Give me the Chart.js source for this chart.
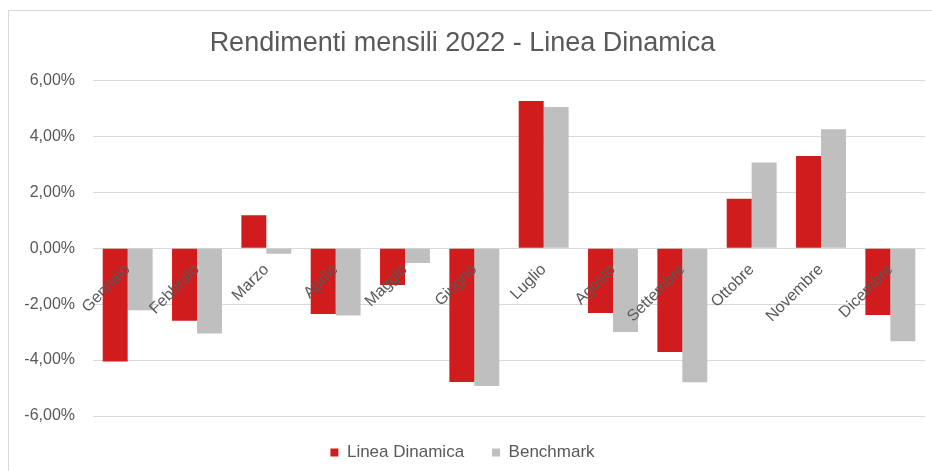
<!DOCTYPE html>
<html>
<head>
<meta charset="utf-8">
<script src="https://cdn.jsdelivr.net/npm/chart.js@4.4.0/dist/chart.umd.min.js"></script>
<style>
  html, body { margin: 0; padding: 0; background: #fff; }
  #wrap { position: relative; width: 932px; height: 471px; }
  #frame { position: absolute; left: 8px; top: 10px; width: 930px; height: 470px; border: 1px solid #d9d9d9; box-sizing: border-box; }
  canvas { position: absolute; left: 0; top: 0; }
</style>
</head>
<body>
<div id="wrap">
  <div id="frame"></div>
  <canvas id="chart" width="932" height="471"></canvas>
</div>
<script>
const CHART = document.getElementById("chart");

var months = ['Gennaio', 'Febbraio', 'Marzo', 'Aprile', 'Maggio', 'Giugno',
              'Luglio', 'Agosto', 'Settembre', 'Ottobre', 'Novembre', 'Dicembre'];
var lineaDinamica = [-4.05, -2.59, 1.18, -2.35, -1.32, -4.78, 5.26, -2.32, -3.71, 1.77, 3.30, -2.39];
var benchmark = [-2.22, -3.05, -0.20, -2.41, -0.53, -4.93, 5.05, -3.00, -4.79, 3.06, 4.25, -3.33];
var yTicks = [-6, -4, -2, 0, 2, 4, 6];

var grey = '#595959';
var fam = 'Liberation Sans, Arial, sans-serif';

const chart = new Chart(CHART, {
    type: 'bar',
    data: {
        labels: months,
        datasets: [{
            label: 'Linea Dinamica',
            backgroundColor: '#d01c1c',
            data: lineaDinamica,
            categoryPercentage: 0.72,
            barPercentage: 1.0
        }, {
            label: 'Benchmark',
            backgroundColor: '#bfbfbf',
            data: benchmark,
            categoryPercentage: 0.72,
            barPercentage: 1.0
        }]
    },
    options: {
        responsive: false,
        animation: false,
        layout: { padding: { top: 0, right: 7, bottom: 0, left: 0 } },
        plugins: {
            title: {
                display: true,
                text: 'Rendimenti mensili 2022 - Linea Dinamica',
                color: grey,
                font: { family: fam, size: 27, weight: 'normal' },
                padding: { top: 27, bottom: 21 }
            },
            legend: {
                position: 'bottom',
                labels: {
                    color: grey,
                    font: { family: fam, size: 17 },
                    boxWidth: 8,
                    boxHeight: 8,
                    padding: 28
                }
            },
            tooltip: { enabled: false }
        },
        scales: {
            x: {
                position: { y: 0 },
                grid: { display: false },
                border: { display: false },
                ticks: {
                    z: 1,
                    color: grey,
                    font: { family: fam, size: 16 },
                    minRotation: 45,
                    maxRotation: 45,
                    autoSkip: false,
                    padding: 4
                }
            },
            y: {
                min: -6,
                max: 6,
                afterFit: function(scale) { scale.width = 93; },
                afterBuildTicks: function(scale) {
                    scale.ticks = yTicks.map(function(v) { return { value: v }; });
                },
                grid: { color: '#d9d9d9', drawTicks: false },
                border: { display: false },
                ticks: {
                    color: grey,
                    font: { family: fam, size: 16 },
                    padding: 18,
                    callback: function(v) { return v.toFixed(2).replace('.', ',') + '%'; }
                }
            }
        }
    }
});
</script>
</body>
</html>
